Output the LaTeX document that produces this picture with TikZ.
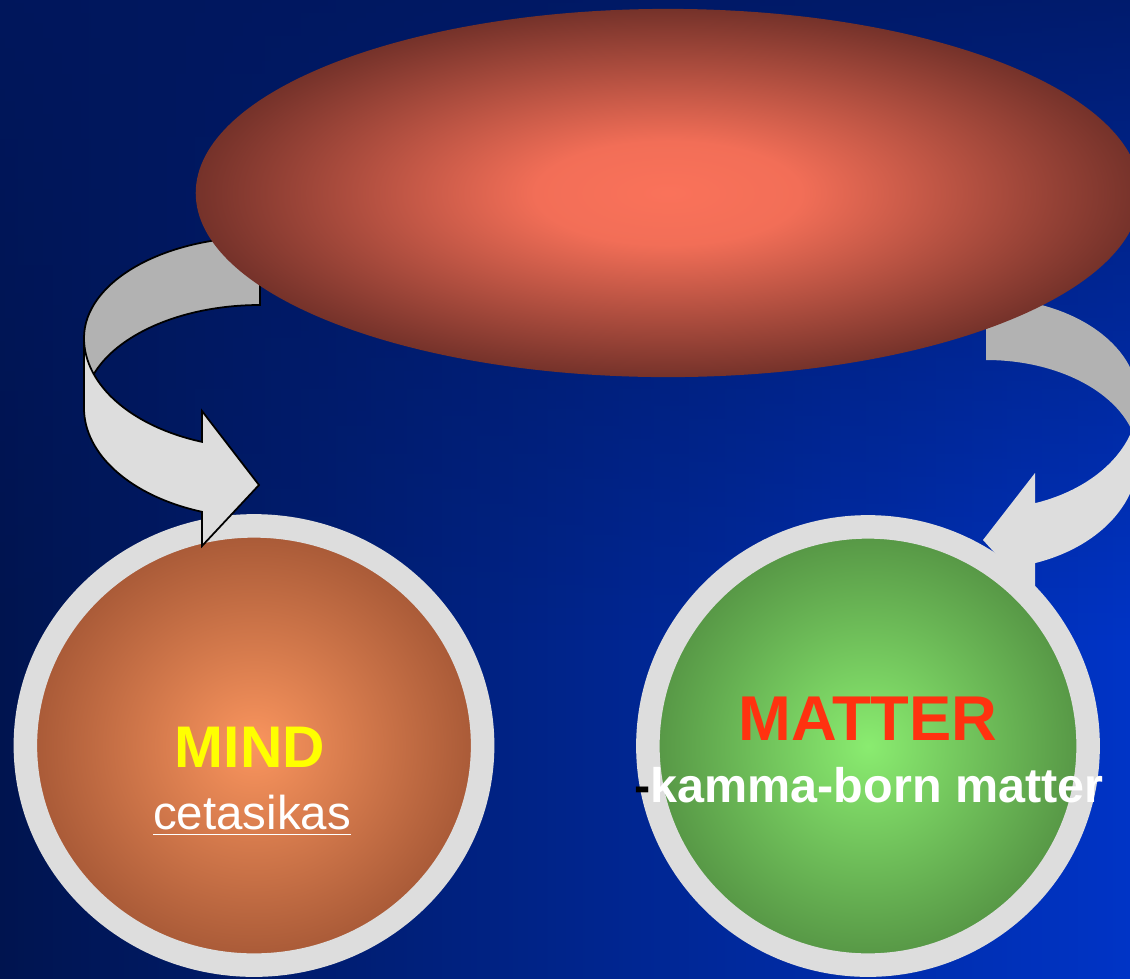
\documentclass[tikz,border=0pt]{standalone}
\usepackage{fontspec}
\setmainfont{Liberation Sans}
\usetikzlibrary{shapes.geometric,fadings}

\definecolor{bgleft}{HTML}{00144F}
\definecolor{bgright}{HTML}{0034C6}
\definecolor{bgtop}{HTML}{00175E}
\definecolor{eggmid}{HTML}{FA725A}
\definecolor{eggrim}{HTML}{75322A}
\definecolor{mindmid}{HTML}{FA955E}
\definecolor{mindrim}{HTML}{A65836}
\definecolor{mattermid}{HTML}{8AEC70}
\definecolor{matterrim}{HTML}{559444}
\definecolor{ringgray}{HTML}{DDDDDD}
\definecolor{bandback}{HTML}{B2B2B2}
\definecolor{bandfront}{HTML}{DDDDDD}
\definecolor{mindyellow}{HTML}{FFFF00}
\definecolor{matterred}{HTML}{FF3210}

\pgfdeclareradialshading{eggshade}{\pgfpointorigin}{color(0bp)=(eggmid); color(7bp)=(eggmid!94!eggrim); color(25bp)=(eggrim); color(50bp)=(eggrim)}
\pgfdeclareradialshading{mindshade}{\pgfpointorigin}{color(0bp)=(mindmid); color(25bp)=(mindrim); color(50bp)=(mindrim)}
\pgfdeclareradialshading{mattershade}{\pgfpointorigin}{color(0bp)=(mattermid); color(25bp)=(matterrim); color(50bp)=(matterrim)}

\begin{document}
\begin{tikzpicture}[
  x=0.01cm, y=-0.01cm,
  ring/.style={ellipse, draw=ringgray, line width=0.235cm, inner sep=0pt, shade, shading=#1},
  backband/.style={fill=bandback},
  frontband/.style={fill=bandfront},
  title/.style={font=\fontsize{#1}{20}\selectfont\bfseries, anchor=base},
  sub/.style={font=\fontsize{13.5}{16}\selectfont, text=white, anchor=base}
]
  \useasboundingbox (0,0) rectangle (1130,978);
  \clip (0,0) rectangle (1130,978);
  \shade[left color=bgleft, right color=bgright] (0,0) rectangle (1130,978);
  \fill[bgtop, path fading=south, fill opacity=0.85] (0,0) rectangle (1130,640);

  \node[ring=mindshade, minimum width=4.57cm, minimum height=4.39cm] (mind) at (254,745.5) {};
  \node[ring=mattershade, minimum width=4.40cm, minimum height=4.38cm] (matter) at (868,746) {};

  % left arrow
  \filldraw[backband, draw=black, line width=0.5pt]
    (260,237) arc[start angle=270, end angle=180, x radius=176, y radius=101]
    -- (84,408) arc[start angle=180, end angle=270, x radius=176, y radius=103] -- cycle;
  \filldraw[frontband, draw=black, line width=0.5pt]
    (84,338) arc[start angle=180, end angle=109.24, x radius=176, y radius=110]
    -- (202,411) -- (259,485) -- (202,546) -- (202,511.8)
    arc[start angle=109.24, end angle=180, x radius=176, y radius=110] -- cycle;

  % right arrow
  \fill[backband]
    (986,298) arc[start angle=270, end angle=360, x radius=152, y radius=102]
    -- (1138,458) arc[start angle=0, end angle=-90, x radius=152, y radius=98] -- cycle;
  \fill[frontband]
    (1138,400) arc[start angle=0, end angle=71.19, x radius=152, y radius=109]
    -- (1035,473) -- (983,540) -- (1035,597) -- (1035,563.1)
    arc[start angle=71.19, end angle=0, x radius=152, y radius=111] -- cycle;

  \node[ellipse, shade, shading=eggshade, minimum width=9.44cm, minimum height=3.68cm,
    inner sep=0pt] (wheel) at (668,193) {};

  \node[title=16.7, text=mindyellow] (mindtitle) at (250,767) {MIND};
  \node[sub] (mindsub) at (252,829) {\underline{cetasikas}};
  \node[title=18, text=matterred] (mattertitle) at (868,740) {MATTER};
  \node[sub, font=\fontsize{13.8}{16}\selectfont\bfseries] (mattersub) at (869,802)
    {{\color{black}-}kamma-born matter};
\end{tikzpicture}
\end{document}
